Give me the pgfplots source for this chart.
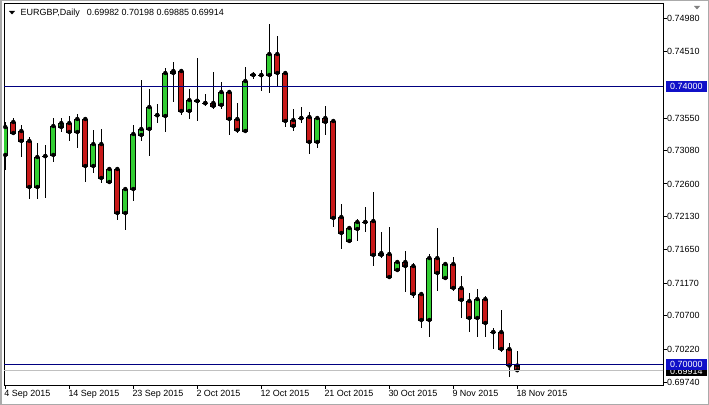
\documentclass[border=0pt]{standalone}
\usepackage{pgfplots}
\pgfplotsset{compat=1.18}
\usepackage{pgfplotstable}
\usepackage{fontspec}
\setmainfont{Liberation Sans}
\definecolor{bull}{RGB}{50,205,50}
\definecolor{bear}{RGB}{200,25,25}
\definecolor{hline}{RGB}{0,0,128}
\definecolor{boxblue}{RGB}{16,16,200}
\definecolor{bidgray}{RGB}{192,192,192}
\definecolor{winborder}{RGB}{170,170,170}

\pgfplotstableread{
i o h l c
0 0.73018 0.73494 0.72801 0.73421
1 0.73494 0.73551 0.73321 0.73335
2 0.73364 0.73450 0.72989 0.73220
3 0.73220 0.73277 0.72383 0.72556
4 0.72556 0.73191 0.72383 0.72989
5 0.73003 0.73162 0.72398 0.73000
6 0.73018 0.73551 0.72917 0.73436
7 0.73421 0.73551 0.73349 0.73479
8 0.73479 0.73580 0.73220 0.73349
9 0.73349 0.73609 0.73119 0.73537
10 0.73537 0.73566 0.72628 0.72859
11 0.72859 0.73378 0.72758 0.73176
12 0.73176 0.73393 0.72614 0.72686
13 0.72628 0.72816 0.72628 0.72816
14 0.72816 0.72830 0.72080 0.72181
15 0.72181 0.72542 0.71936 0.72527
16 0.72527 0.73450 0.72354 0.73321
17 0.73306 0.74099 0.73220 0.73393
18 0.73393 0.73969 0.73003 0.73710
19 0.73594 0.73753 0.73479 0.73590
20 0.73580 0.74272 0.73349 0.74200
21 0.74200 0.74359 0.73782 0.74229
22 0.74229 0.74243 0.73594 0.73652
23 0.73652 0.73969 0.73537 0.73811
24 0.73796 0.74416 0.73508 0.73800
25 0.73768 0.73897 0.73724 0.73765
26 0.73768 0.74215 0.73681 0.73724
27 0.73739 0.74070 0.73681 0.73926
28 0.73926 0.73926 0.73306 0.73537
29 0.73537 0.73768 0.73335 0.73378
30 0.73364 0.74287 0.73335 0.74085
31 0.74171 0.74215 0.74114 0.74175
32 0.74171 0.74243 0.73941 0.74168
33 0.74171 0.74907 0.73912 0.74474
34 0.74474 0.74734 0.73998 0.74200
35 0.74200 0.74229 0.73421 0.73508
36 0.73522 0.73681 0.73364 0.73436
37 0.73551 0.73710 0.73479 0.73548
38 0.73566 0.73638 0.73032 0.73205
39 0.73205 0.73551 0.73119 0.73551
40 0.73551 0.73724 0.73306 0.73494
41 0.73508 0.73522 0.71979 0.72109
42 0.72124 0.72311 0.71662 0.71893
43 0.71778 0.71979 0.71778 0.71965
44 0.71951 0.72095 0.71778 0.72052
45 0.72052 0.72268 0.71907 0.72050
46 0.72066 0.72484 0.71417 0.71576
47 0.71576 0.71907 0.71532 0.71604
48 0.71590 0.71979 0.71230 0.71258
49 0.71359 0.71489 0.71331 0.71475
50 0.71475 0.71633 0.71042 0.71417
51 0.71417 0.71460 0.70956 0.71013
52 0.71013 0.71028 0.70523 0.70638
53 0.70638 0.71590 0.70393 0.71532
54 0.71532 0.71965 0.71057 0.71316
55 0.71244 0.71460 0.71244 0.71446
56 0.71446 0.71547 0.71057 0.71100
57 0.71100 0.71273 0.70667 0.70927
58 0.70912 0.71028 0.70465 0.70667
59 0.70667 0.71085 0.70393 0.70941
60 0.70941 0.70984 0.70393 0.70595
61 0.70465 0.70523 0.70220 0.70463
62 0.70465 0.70783 0.70177 0.70220
63 0.70220 0.70307 0.69816 0.69982
64 0.69982 0.70198 0.69885 0.69914
}\ohlc

\begin{document}
\begin{tikzpicture}
\useasboundingbox (0bp,0bp) rectangle (709bp,405bp);
\draw[winborder, line width=1.5bp] (0.75bp,0.75bp) rectangle (708.25bp,404.25bp);
\begin{axis}[
  at={(4bp,20bp)}, anchor=south west,
  scale only axis, width=659bp, height=381bp,
  xmin=-0.1625, xmax=82.2125,
  ymin=0.697011, ymax=0.751951,
  clip mode=individual,
  axis line style={black, line width=1bp},
  tick style={black, line width=1bp},
  tick align=outside,
  major tick length=4bp,
  xtick pos=bottom, ytick pos=right,
  yticklabel pos=right,
  xtick={0,8,16,24,32,40,48,56,64},
  xticklabels={4 Sep 2015,14 Sep 2015,23 Sep 2015,2 Oct 2015,12 Oct 2015,21 Oct 2015,30 Oct 2015,9 Nov 2015,18 Nov 2015},
  ytick={0.6974,0.7022,0.707,0.7117,0.7165,0.7213,0.726,0.7308,0.7355,0.7451,0.7498},
  yticklabels={0.69740,0.70220,0.70700,0.71170,0.71650,0.72130,0.72600,0.73080,0.73550,0.74510,0.74980},
  ticklabel style={font=\fontsize{9}{10}\selectfont},
  xticklabel style={anchor=north west, inner sep=0pt, xshift=-1bp, yshift=-1.5bp},
  yticklabel style={anchor=west, inner sep=0pt},
  scaled y ticks=false,
]
\addplot[ybar, bar width=0.62, bar shift=0pt, stack plots=y, draw=none, fill=none, forget plot]
  table[x=i, y expr={min(\thisrow{o},\thisrow{c})}]{\ohlc};
\addplot[ybar, bar width=0.62, bar shift=0pt, stack plots=y, draw=black, line width=0.9bp, fill=bull, forget plot]
  table[x=i, y expr={max(\thisrow{c}-\thisrow{o},0)}]{\ohlc};
\addplot[ybar, bar width=0.62, bar shift=0pt, stack plots=y, draw=black, line width=0.9bp, fill=bear, forget plot]
  table[x=i, y expr={max(\thisrow{o}-\thisrow{c},0)}]{\ohlc};
% wicks
\addplot[stack plots=false, only marks, mark=none, forget plot,
  error bars/.cd, y dir=minus, y explicit, error mark=none,
  error bar style={black, line width=1bp}]
  table[x=i, y expr={min(\thisrow{o},\thisrow{c})}, y error expr={min(\thisrow{o},\thisrow{c})-\thisrow{l}}]{\ohlc};
\addplot[stack plots=false, only marks, mark=none, forget plot,
  error bars/.cd, y dir=plus, y explicit, error mark=none,
  error bar style={black, line width=1bp}]
  table[x=i, y expr={max(\thisrow{o},\thisrow{c})}, y error expr={\thisrow{h}-max(\thisrow{o},\thisrow{c})}]{\ohlc};
% horizontal levels
\addplot[stack plots=false, bidgray, line width=1bp, forget plot] coordinates {(-1,0.69914) (83,0.69914)};
\addplot[stack plots=false, hline, line width=1bp, forget plot] coordinates {(-1,0.74) (83,0.74)};
\addplot[stack plots=false, hline, line width=1bp, forget plot] coordinates {(-1,0.70) (83,0.70)};
% price boxes
\node[fill=black, text=white, anchor=west, inner xsep=4bp, inner ysep=0pt, minimum height=10bp, font=\fontsize{9}{10}\selectfont]
  at ([xshift=3bp, yshift=-1bp]axis cs:82.2125,0.69914) {0.69914};
\node[fill=boxblue, text=white, anchor=west, inner xsep=4bp, inner ysep=0pt, minimum height=11bp, font=\fontsize{9}{10}\selectfont]
  at ([xshift=3bp]axis cs:82.2125,0.70) {0.70000};
\node[fill=boxblue, text=white, anchor=west, inner xsep=4bp, inner ysep=0pt, minimum height=11bp, font=\fontsize{9}{10}\selectfont]
  at ([xshift=3bp]axis cs:82.2125,0.74) {0.74000};
\end{axis}
\fill[black] (9bp,394bp) -- (15bp,394bp) -- (12bp,390.5bp) -- cycle;
\node[anchor=base west, inner sep=0pt, font=\fontsize{9}{10}\selectfont] at (20.5bp,389bp)
  {EURGBP,Daily\hspace{7bp}0.69982 0.70198 0.69885 0.69914};
\fill[gray] (694bp,399bp) -- (700bp,399bp) -- (697bp,395.5bp) -- cycle;
\end{tikzpicture}
\end{document}
